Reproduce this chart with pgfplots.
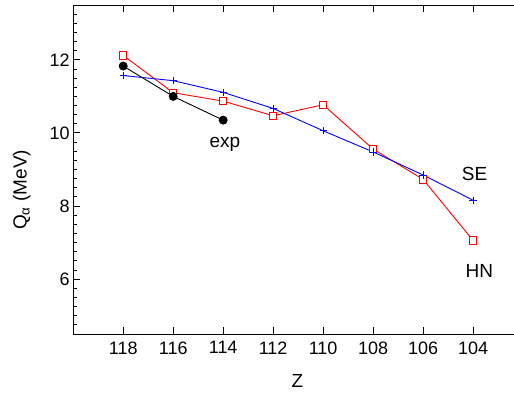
\documentclass[border=0pt]{standalone}
\usepackage{pgfplots}
\pgfplotsset{compat=1.18}
\usepackage{fontspec}
\setmainfont{Liberation Sans}
\begin{document}
\begin{tikzpicture}
\begin{axis}[
  scale only axis,
  width=440.7bp, height=329.3bp,
  x dir=reverse,
  xmin=102.38, xmax=120,
  ymin=4.5, ymax=13.5,
  axis line style={draw=none},
  xtick={104,106,...,118},
  ytick={6,8,10,12},
  minor y tick num=7,
  tick align=inside,
  tick style={draw=none},
  /pgf/number format/assume math mode=true,
  ticklabel style={font=\fontsize{18bp}{21bp}\selectfont},
  xticklabel style={yshift=-4bp},
  xlabel={Z},
  ylabel={Q\textsubscript{α} (MeV)},
  label style={font=\fontsize{19bp}{22bp}\selectfont},
  xlabel style={at={(axis description cs:0.509,-0.143)}, anchor=center},
  ylabel style={at={(axis description cs:-0.117,0.438)}, anchor=center, rotate=0},
  clip=false,
]
\draw[black, line width=0.9bp] (axis cs:102.38,13.5) -- (axis cs:120,13.5) -- (axis cs:120,4.5) -- (axis cs:102.38,4.5);
\pgfplotsinvokeforeach{104,106,108,110,112,114,116,118}{
  \draw[black, line width=0.9bp] (axis cs:#1,4.5) -- ([yshift=7bp]axis cs:#1,4.5);
  \draw[black, line width=0.9bp] (axis cs:#1,13.5) -- ([yshift=-7bp]axis cs:#1,13.5);
}
\pgfplotsinvokeforeach{6,8,10,12}{
  \draw[black, line width=0.9bp] (axis cs:120,#1) -- ([xshift=7bp]axis cs:120,#1);
}
\pgfplotsinvokeforeach{4.75,5,5.25,5.5,5.75,6.25,6.5,6.75,7,7.25,7.5,7.75,8.25,8.5,8.75,9,9.25,9.5,9.75,10.25,10.5,10.75,11,11.25,11.5,11.75,12.25,12.5,12.75,13,13.25}{
  \draw[black, line width=0.9bp] (axis cs:120,#1) -- ([xshift=4bp]axis cs:120,#1);
}
\addplot[red, line width=0.9bp, mark=square*, mark size=3.6bp, mark options={fill=white, draw=red, line width=0.8bp}]
  coordinates {(118,12.12) (116,11.10) (114,10.87) (112,10.47) (110,10.77) (108,9.56) (106,8.73) (104,7.06)};
\addplot[blue, line width=0.9bp, mark=+, mark size=3.6bp, mark options={line width=0.8bp}]
  coordinates {(118,11.57) (116,11.43) (114,11.11) (112,10.67) (110,10.06) (108,9.48) (106,8.85) (104,8.16)};
\addplot[black, line width=0.9bp, mark=*, mark size=4bp]
  coordinates {(118,11.83) (116,11.00) (114,10.35)};
\node[font=\fontsize{19bp}{22bp}\selectfont] at (axis cs:113.93,9.69) {exp};
\node[font=\fontsize{19bp}{22bp}\selectfont] at (axis cs:103.94,8.87) {SE};
\node[font=\fontsize{19bp}{22bp}\selectfont] at (axis cs:103.75,6.22) {HN};
\end{axis}
\path ([shift={(-73.3bp,-61.7bp)}]current axis.south west) rectangle ([yshift=5bp]current axis.north east);
\end{tikzpicture}
\end{document}
